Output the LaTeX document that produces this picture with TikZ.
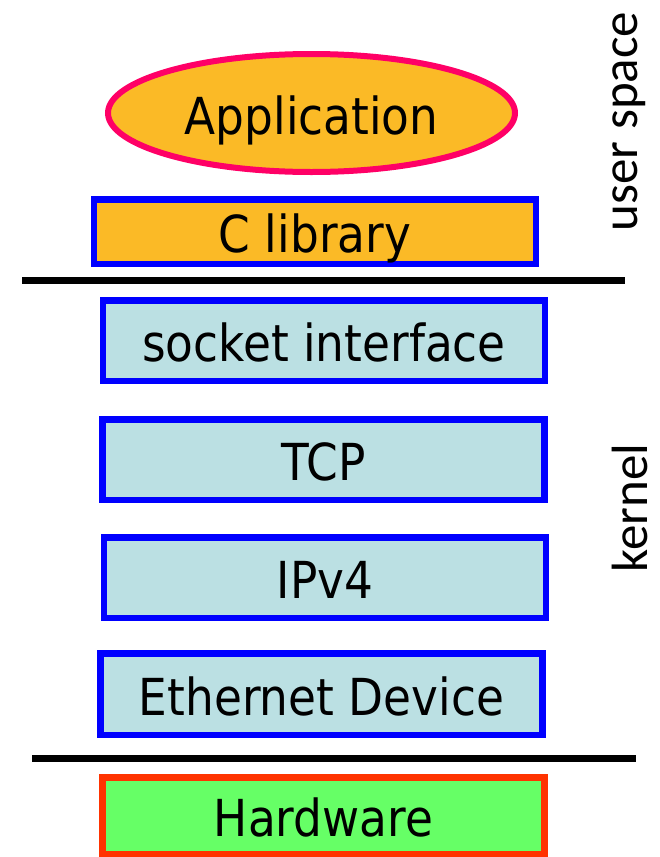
\documentclass[tikz,border=0pt]{standalone}
\usepackage{fontspec}
\setmainfont{DejaVu Sans}[FakeStretch=0.89]
\newfontfamily\sidefont{Carlito}
\usetikzlibrary{shapes.geometric}
\definecolor{appfill}{HTML}{FBBA26}
\definecolor{apppink}{HTML}{FF0066}
\definecolor{boxblue}{HTML}{0000FF}
\definecolor{kfill}{HTML}{BBE0E3}
\definecolor{hwfill}{HTML}{66FF66}
\definecolor{hwline}{HTML}{FF3300}
\tikzset{
  lbl/.style={font=\fontsize{51}{60}\selectfont, text height=42.2pt, text depth=0pt, inner sep=0pt},
  layer/.style={lbl, rectangle, line width=6.5pt, minimum width=442pt, minimum height=80.5pt},
  userbox/.style={layer, draw=boxblue, fill=appfill},
  kbox/.style={layer, draw=boxblue, fill=kfill},
  hwbox/.style={layer, draw=hwline, fill=hwfill},
  appell/.style={lbl, ellipse, draw=apppink, fill=appfill, line width=6pt, minimum width=407pt, minimum height=118pt},
  sep/.style={line width=7pt, black},
  side/.style={font=\sidefont\fontsize{51}{60}\selectfont, rotate=90, anchor=base, inner sep=0pt}
}
\begin{document}
\begin{tikzpicture}[x=1pt,y=-1pt]
\useasboundingbox (0,0) rectangle (659,857);
\node[appell] (app) at (311.5,113) {Application};
\node[userbox, minimum height=64.5pt] (clib) at (315,231.5) {C library};
\coordinate (l1a) at (22,280.5);
\coordinate (l1b) at (625,280.5);
\draw[sep] (l1a) -- (l1b);
\node[kbox] (sock) at (324,340.5) {socket interface};
\node[kbox] (tcp) at (323.5,459.5) {TCP};
\node[kbox] (ip) at (325,577.5) {IPv4};
\node[kbox, minimum height=81.5pt] (eth) at (321.5,694) {Ethernet Device};
\coordinate (l2a) at (32,758);
\coordinate (l2b) at (636,758);
\draw[sep] (l2a) -- (l2b);
\node[hwbox, minimum height=76.5pt] (hw) at (323.5,815.5) {Hardware};
\node[side] (us) at (637,121.5) {user space};
\node[side] (kern) at (647,508) {kernel};
\end{tikzpicture}
\end{document}
